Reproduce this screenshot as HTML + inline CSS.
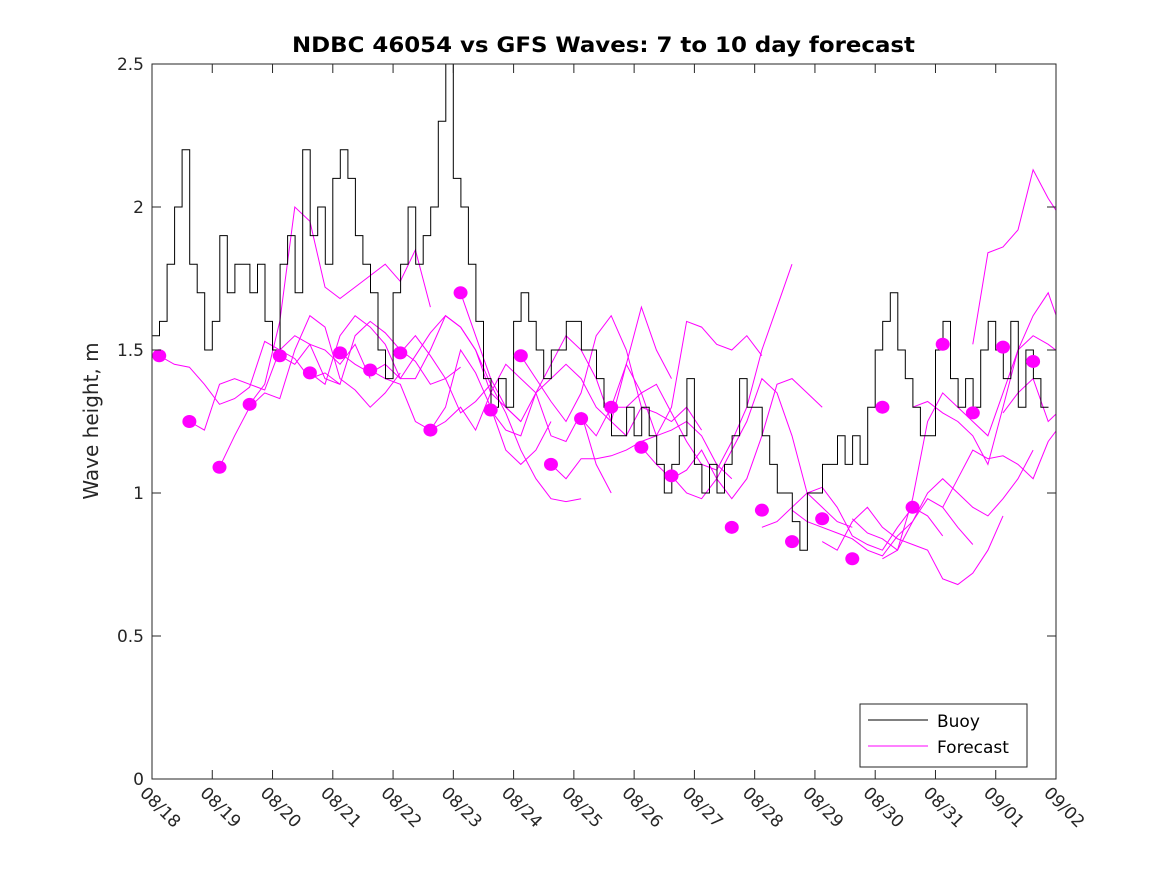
<!DOCTYPE html>
<html><head><meta charset="utf-8"><style>
body{margin:0;background:#fff;}
svg{display:block;font-family:"DejaVu Sans","Liberation Sans",sans-serif;}
</style></head><body>
<svg id="chart" width="1167" height="875" viewBox="0 0 1167 875">
<rect x="0" y="0" width="1167" height="875" fill="#fff"/>
<text x="292" y="52" font-size="21" font-weight="bold" fill="#000" textLength="623" lengthAdjust="spacingAndGlyphs">NDBC 46054 vs GFS Waves: 7 to 10 day forecast</text>
<text transform="translate(98,421) rotate(-90)" text-anchor="middle" font-size="20" fill="#262626">Wave height, m</text>
<defs><clipPath id="plotclip"><rect x="152" y="64" width="904" height="715"/></clipPath></defs>
<g id="series" clip-path="url(#plotclip)"></g>
<g id="axes"></g>
<g>
<rect x="860" y="704" width="167" height="63" fill="#fff" stroke="#262626" stroke-width="1"/>
<line x1="868" y1="720" x2="928" y2="720" stroke="#000" stroke-width="1"/>
<text x="937" y="727" font-size="17" fill="#000">Buoy</text>
<line x1="868" y1="746" x2="928" y2="746" stroke="#ff00ff" stroke-width="1"/>
<text x="937" y="753" font-size="17" fill="#000">Forecast</text>
</g>
</svg>
<script>
const xTickLabels=["08/18","08/19","08/20","08/21","08/22","08/23","08/24","08/25","08/26","08/27","08/28","08/29","08/30","08/31","09/01","09/02"];
const yTicks=[0,0.5,1,1.5,2,2.5];
const buoyStep=0.125;
const buoyValues=[1.55,1.6,1.8,2.0,2.2,1.8,1.7,1.5,
1.6,1.9,1.7,1.8,1.8,1.7,1.8,1.6,
1.5,1.8,1.9,1.7,2.2,1.9,2.0,1.8,
2.1,2.2,2.1,1.9,1.8,1.7,1.5,1.4,
1.7,1.8,2.0,1.8,1.9,2.0,2.3,2.5,
2.1,2.0,1.8,1.6,1.4,1.3,1.4,1.3,
1.6,1.7,1.6,1.5,1.4,1.5,1.5,1.6,
1.6,1.5,1.5,1.4,1.3,1.2,1.2,1.3,
1.2,1.3,1.2,1.1,1.0,1.1,1.2,1.4,
1.1,1.0,1.1,1.0,1.1,1.2,1.4,1.3,
1.3,1.2,1.1,1.0,1.0,0.9,0.8,1.0,
1.0,1.1,1.1,1.2,1.1,1.2,1.1,1.3,
1.5,1.6,1.7,1.5,1.4,1.3,1.2,1.2,
1.5,1.6,1.4,1.3,1.4,1.3,1.5,1.6,
1.5,1.4,1.6,1.3,1.5,1.4,1.3];
const fcStep=0.25;
const fcStarts=[0.12,0.62,1.12,1.62,2.12,2.62,3.12,3.62,4.12,4.62,5.12,5.62,6.12,6.62,7.12,7.62,8.12,8.62,10.12,10.62,11.12,11.62,12.12,12.62,13.12,13.62,14.12];
const fcValues=[
[1.48,1.45,1.44,1.38,1.31,1.33,1.37,1.53,1.50,1.47,1.40,1.42,1.38],
[1.25,1.22,1.38,1.40,1.38,1.36,1.50,1.55,1.52,1.50,1.45,1.52,1.40],
[1.09,1.20,1.30,1.35,1.33,1.50,1.62,1.58,1.40,1.36,1.30,1.35,1.42],
[1.31,1.38,1.60,2.00,1.95,1.72,1.68,1.72,1.76,1.80,1.74,1.85,1.65],
[1.48,1.45,1.52,1.40,1.38,1.55,1.60,1.56,1.50,1.46,1.38,1.40,1.44],
[1.42,1.38,1.55,1.62,1.58,1.52,1.40,1.40,1.50,1.62,1.58,1.50,1.38],
[1.49,1.45,1.42,1.45,1.40,1.48,1.56,1.62,1.58,1.50,1.35,1.30,1.25],
[1.43,1.40,1.38,1.25,1.22,1.30,1.50,1.42,1.30,1.15,1.10,1.15,1.25],
[1.49,1.55,1.48,1.40,1.28,1.32,1.38,1.28,1.15,1.05,0.98,0.97,0.98],
[1.22,1.25,1.30,1.22,1.35,1.45,1.40,1.35,1.20,1.18,1.28,1.10,1.00],
[1.70,1.55,1.40,1.30,1.25,1.35,1.45,1.55,1.50,1.40,1.25,1.20,1.30],
[1.29,1.22,1.20,1.35,1.40,1.45,1.40,1.30,1.25,1.45,1.65,1.50,1.40],
[1.48,1.40,1.32,1.25,1.35,1.55,1.62,1.50,1.30,1.28,1.25,1.30,1.22],
[1.10,1.05,1.12,1.12,1.13,1.15,1.18,1.20,1.22,1.25,1.20,1.10,1.05],
[1.26,1.20,1.30,1.45,1.35,1.20,1.30,1.60,1.58,1.52,1.50,1.55,1.48],
[1.30,1.30,1.35,1.38,1.28,1.18,1.10,1.08,1.18,1.30,1.50,1.65,1.80],
[1.16,1.10,1.05,1.08,1.15,1.05,0.98,1.05,1.20,1.38,1.40,1.35,1.30],
[1.06,1.00,0.98,1.05,1.15,1.25,1.40,1.35,1.20,1.00,0.95,0.90,0.88],
[0.88,0.90,0.95,1.00,1.02,0.95,0.85,0.82,0.80,0.88,0.95,0.92,0.85],
[0.94,0.90,0.88,0.86,0.84,0.80,0.78,0.85,0.90,0.98,0.95,0.88,0.82],
[0.83,0.80,0.90,0.95,0.88,0.84,0.82,0.80,0.70,0.68,0.72,0.80,0.92],
[0.91,0.86,0.84,0.80,0.90,1.00,1.05,1.00,0.95,0.92,0.98,1.05,1.15],
[0.77,0.80,0.98,1.25,1.35,1.30,1.25,1.20,1.35,1.50,1.55,1.52,1.48],
[1.30,1.32,1.28,1.25,1.20,1.10,1.30,1.50,1.62,1.70,1.55,1.48,1.40],
[0.95,1.05,1.15,1.12,1.13,1.10,1.05,1.18,1.25,1.40,1.30,1.15,1.05],
[1.52,1.84,1.86,1.92,2.13,2.03,1.95,2.10,2.18,2.12,2.04,2.15,2.19],
[1.28,1.35,1.40,1.25,1.30,1.45,1.60,1.40,1.30,1.10,1.15,1.25,1.30]];
const dotDays=[0.12,0.62,1.12,1.62,2.12,2.62,3.12,3.62,4.12,4.62,5.12,5.62,6.12,6.62,7.12,7.62,8.12,8.62,9.62,10.12,10.62,11.12,11.62,12.12,12.62,13.12,13.62,14.12,14.62];
const dotValues=[1.48,1.25,1.09,1.31,1.48,1.42,1.49,1.43,1.49,1.22,1.70,1.29,1.48,1.10,1.26,1.30,1.16,1.06,0.88,0.94,0.83,0.91,0.77,1.30,0.95,1.52,1.28,1.51,1.46];

const NS="http://www.w3.org/2000/svg";
const X0=152,X1=1056,Y0=779,Y1=64;
const xs=d=>X0+(X1-X0)*d/15;
const ys=v=>Y0-(Y0-Y1)*v/2.5;
const series=document.getElementById('series');
const axes=document.getElementById('axes');
function mk(tag,attrs,parent){const e=document.createElementNS(NS,tag);for(const k in attrs)e.setAttribute(k,attrs[k]);parent.appendChild(e);return e;}

fcValues.forEach((vals,i)=>{
  const pts=vals.map((v,j)=>xs(fcStarts[i]+j*fcStep).toFixed(1)+','+ys(v).toFixed(1)).join(' ');
  const p=mk('polyline',{points:pts,fill:'none',stroke:'#ff00ff','stroke-width':1},series);
  
  
});
let d='';
buoyValues.forEach((v,i)=>{
  const x=xs(i*buoyStep),y=ys(v);
  if(i===0)d+='M'+x.toFixed(1)+','+y.toFixed(1);
  else d+='H'+x.toFixed(1)+'V'+y.toFixed(1);
});
d+='H'+xs(buoyValues.length*buoyStep).toFixed(1);
const bp=mk('path',{d:d,fill:'none',stroke:'#000','stroke-width':1},series);


dotValues.forEach((v,i)=>{
  const c=mk('ellipse',{cx:xs(dotDays[i]),cy:ys(v),rx:7,ry:6.5,fill:'#ff00ff'},series);
  
  
});

const fr=mk('rect',{x:X0,y:Y1,width:X1-X0,height:Y0-Y1,fill:'none',stroke:'#262626','stroke-width':1},axes);


yTicks.forEach(v=>{
  const y=ys(v);
  mk('line',{x1:X0,y1:y,x2:X0+9,y2:y,stroke:'#262626'},axes);
  mk('line',{x1:X1,y1:y,x2:X1-9,y2:y,stroke:'#262626'},axes);
  const t=mk('text',{x:X0-8,y:y+6,'text-anchor':'end','font-size':17,fill:'#262626'},axes);
  t.textContent=String(v);
  
  
});
xTickLabels.forEach((lab,i)=>{
  const x=xs(i);
  mk('line',{x1:x,y1:Y0,x2:x,y2:Y0-9,stroke:'#262626'},axes);
  mk('line',{x1:x,y1:Y1,x2:x,y2:Y1+9,stroke:'#262626'},axes);
  const t=mk('text',{transform:'translate('+(x-13)+','+(Y0+15)+') rotate(45)','font-size':17,fill:'#262626'},axes);
  t.textContent=lab;
  
  
});
</script>
</body></html>
